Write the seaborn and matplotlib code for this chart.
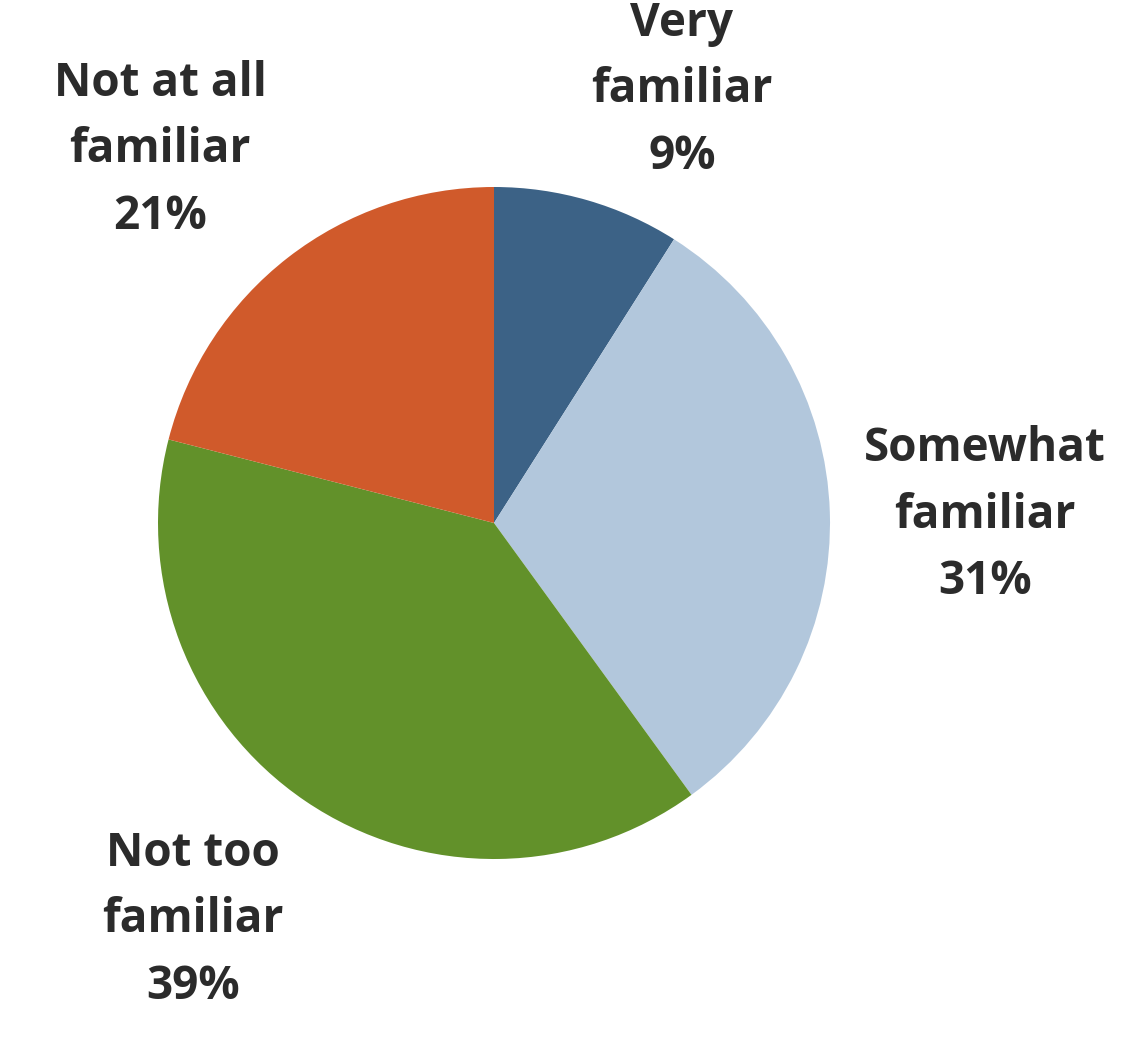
import matplotlib
matplotlib.use("Agg")
import matplotlib.pyplot as plt
import seaborn as sns

# Survey shares, clockwise from 12 o'clock
categories = ["Very\nfamiliar", "Somewhat\nfamiliar", "Not too\nfamiliar", "Not at all\nfamiliar"]
shares = [9, 31, 39, 21]

palette = ["#3c6286", "#b2c7dc", "#62912a", "#d05a2b"]

sns.set_theme(style="white")
plt.rcParams["font.family"] = ["Open Sans", "DejaVu Sans"]

W, H = 1130, 1048
fig = plt.figure(figsize=(W / 100, H / 100), dpi=100)
ax = fig.add_axes([0, 0, 1, 1])

cx, cy, r = 494, H - 523, 336
ax.pie(shares, colors=palette, startangle=90, counterclock=False,
       center=(cx, cy), radius=r, frame=True,
       wedgeprops=dict(linewidth=0))
ax.set_xlim(0, W)
ax.set_ylim(0, H)
ax.set_aspect("equal")
ax.axis("off")

# label anchors (centre of the middle line), in pixel coordinates
label_xy = [(682, 90), (985, 515), (193, 920), (160, 150)]
for name, val, (x, y) in zip(categories, shares, label_xy):
    ax.text(x, H - y, f"{name}\n{val}%", ha="center", va="center",
            fontsize=33, fontweight="bold", color="#2b2b2b",
            linespacing=1.55)

fig.savefig("out.png", dpi=100, facecolor="white")
